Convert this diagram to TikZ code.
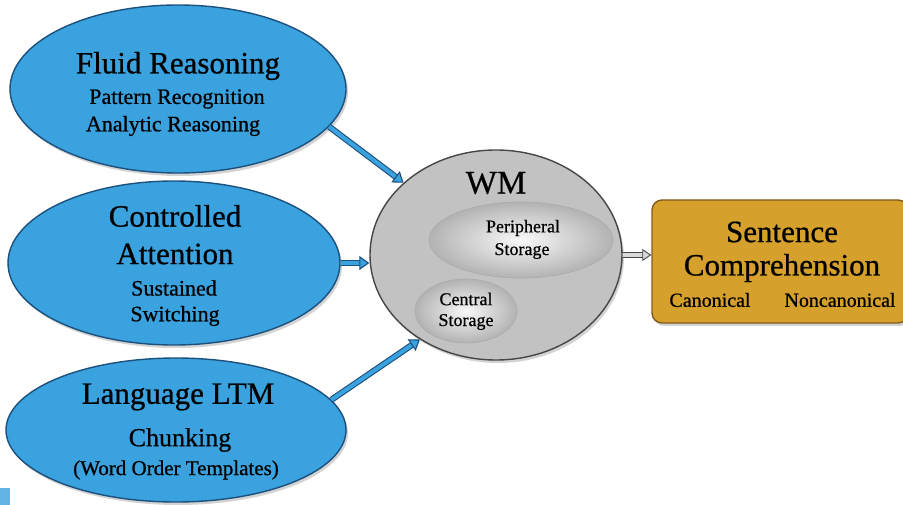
\documentclass[tikz,border=0pt]{standalone}
\usepackage{fontspec}
\setmainfont[FakeBold=0.7]{Liberation Serif}
\usetikzlibrary{arrows.meta,shapes.geometric,shadows}

\definecolor{BlobBlue}{RGB}{58,162,222}
\definecolor{BlobEdge}{RGB}{28,80,125}
\definecolor{WmGray}{RGB}{194,194,194}
\definecolor{WmEdge}{RGB}{70,70,70}
\definecolor{BoxGold}{RGB}{214,160,44}
\definecolor{BoxEdge}{RGB}{130,92,28}

\tikzset{
  BlobStyle/.style = {ellipse, draw = BlobEdge, line width = 1.4pt, fill = BlobBlue,
    inner sep = 0pt, drop shadow = {opacity = .35, shadow xshift = 2pt, shadow yshift = -3pt}},
  WmStyle/.style = {ellipse, draw = WmEdge, line width = 1.4pt, fill = WmGray,
    inner sep = 0pt, drop shadow = {opacity = .35, shadow xshift = 2pt, shadow yshift = -3pt}},
  StoreStyle/.style = {ellipse, draw = gray!65, line width = .7pt,
    inner color = gray!5, outer color = gray!60, inner sep = 0pt},
  BoxStyle/.style = {rectangle, rounded corners = 10pt, draw = BoxEdge, line width = 1.4pt,
    fill = BoxGold, inner sep = 0pt, drop shadow = {opacity = .35, shadow xshift = 2pt, shadow yshift = -3pt}},
  BigText/.style = {inner sep = 0pt, font = \fontsize{31}{33}\selectfont},
  SubText/.style = {inner sep = 0pt, font = \fontsize{22}{24}\selectfont},
  StoreText/.style = {inner sep = 0pt, font = \fontsize{18}{20}\selectfont},
  FeedArrow/.style = {draw = BlobEdge, line width = 1.1pt, double = BlobBlue, double distance = 4pt,
    -{Triangle[length = 10pt, width = 14pt, fill = BlobBlue]}},
  OutArrow/.style = {draw = WmEdge, line width = .9pt, double = gray!30, double distance = 3.5pt,
    -{Triangle[length = 9pt, width = 12pt, fill = gray!30]}}
}

\begin{document}
\begin{tikzpicture}[x = 1pt, y = -1pt]
  \useasboundingbox (0,0) rectangle (903,505);
  \fill[BlobBlue!80] (0,488) rectangle (10,505);

  % input blobs
  \node[BlobStyle, minimum width = 336pt, minimum height = 168pt] (fluid) at (178,89) {};
  \node[BlobStyle, minimum width = 332pt, minimum height = 164pt] (attn) at (174,263) {};
  \node[BlobStyle, minimum width = 340pt, minimum height = 144pt] (ltm) at (176,430) {};

  \node[BigText] (fluidT) at (178,66) {Fluid Reasoning};
  \node[SubText] (fluidA) at (177,99) {Pattern Recognition};
  \node[SubText] (fluidB) at (173,126) {Analytic Reasoning};

  \node[BigText] (attnT) at (175,216) {Controlled};
  \node[BigText] (attnU) at (175,254) {Attention};
  \node[SubText] (attnA) at (174,288) {Sustained};
  \node[SubText] (attnB) at (175,316) {Switching};

  \node[BigText] (ltmT) at (178,397) {Language LTM};
  \node[SubText, font = \fontsize{26}{28}\selectfont] (ltmA) at (180,440) {Chunking};
  \node[SubText, font = \fontsize{21}{23}\selectfont] (ltmB) at (176,470) {(Word Order Templates)};

  % working memory
  \node[WmStyle, minimum width = 252pt, minimum height = 210pt] (wm) at (496,255) {};
  \node[BigText, font = \fontsize{33}{35}\selectfont] (wmT) at (496,183) {WM};
  \node[StoreStyle, minimum width = 184pt, minimum height = 76pt] (periph) at (521,240) {};
  \node[StoreText] (periphA) at (523,228) {Peripheral};
  \node[StoreText] (periphB) at (522,251) {Storage};
  \node[StoreStyle, minimum width = 102pt, minimum height = 64pt] (central) at (466,311) {};
  \node[StoreText] (centralA) at (466,299) {Central};
  \node[StoreText] (centralB) at (466,322) {Storage};

  % outcome
  \node[BoxStyle, minimum width = 256pt, minimum height = 123pt] (sc) at (780,261.5) {};
  \node[BigText] (scT) at (782,232) {Sentence};
  \node[BigText] (scU) at (782,268) {Comprehension};
  \node[SubText, font = \fontsize{20}{22}\selectfont] (scA) at (710,300) {Canonical};
  \node[SubText, font = \fontsize{20}{22}\selectfont] (scB) at (840,300) {Noncanonical};

  % arrows
  \draw[FeedArrow] (fluid.-14) -- (wm.142);
  \draw[FeedArrow] (attn.east) -- (wm.west |- attn.east);
  \draw[FeedArrow] (ltm.11) -- (wm.228);
  \draw[OutArrow] (wm.east) -- (sc.west |- wm.east);
\end{tikzpicture}
\end{document}
